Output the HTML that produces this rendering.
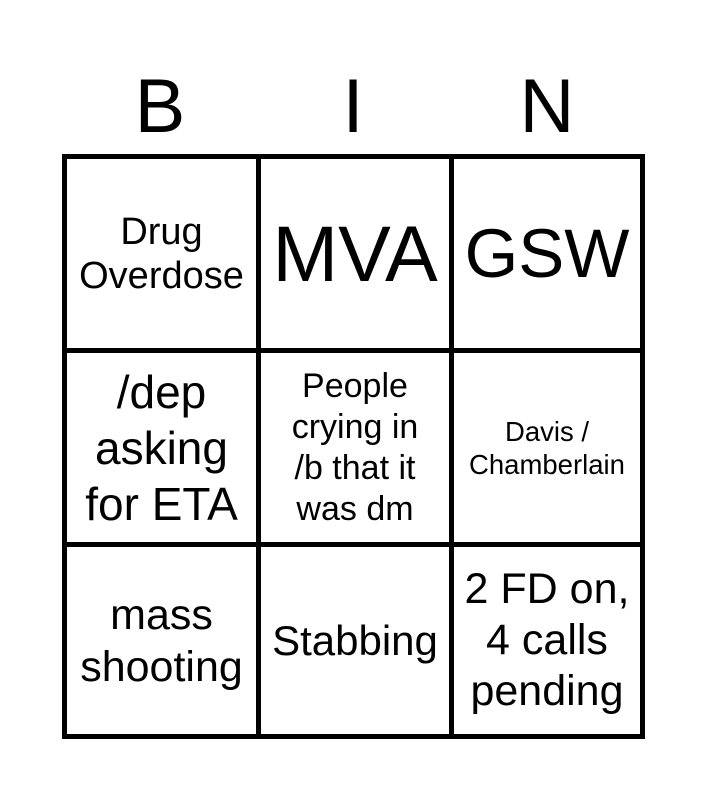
<!DOCTYPE html>
<html><head><style>
body{margin:0;width:707px;height:800px;background:#fff;font-family:"Liberation Sans",sans-serif;position:relative;overflow:hidden}
.h{position:absolute;top:62px;font-size:76px;width:120px;text-align:center;line-height:90px}
.l{position:absolute;background:#000}
.c{position:absolute;display:flex;align-items:center;justify-content:center;text-align:center;color:#000;white-space:nowrap}
</style></head><body>
<div class="h" style="left:100px">B</div>
<div class="h" style="left:293px">I</div>
<div class="h" style="left:487px">N</div>
<div class="l" style="left:62px;top:154px;width:583px;height:5px"></div>
<div class="l" style="left:62px;top:348px;width:583px;height:5px"></div>
<div class="l" style="left:62px;top:542px;width:583px;height:5px"></div>
<div class="l" style="left:62px;top:734px;width:583px;height:5px"></div>
<div class="l" style="left:62px;top:154px;width:5px;height:585px"></div>
<div class="l" style="left:256px;top:154px;width:5px;height:585px"></div>
<div class="l" style="left:449px;top:154px;width:5px;height:585px"></div>
<div class="l" style="left:640px;top:154px;width:5px;height:585px"></div>

<div class="c" style="left:67px;top:159px;width:189px;height:189px;font-size:38px;line-height:44px">Drug<br>Overdose</div>
<div class="c" style="left:261px;top:159px;width:188px;height:189px;font-size:79px">MVA</div>
<div class="c" style="left:454px;top:159px;width:186px;height:189px;font-size:69px">GSW</div>

<div class="c" style="left:67px;top:353px;width:189px;height:189px;font-size:46px;line-height:56px">/dep<br>asking<br>for ETA</div>
<div class="c" style="left:261px;top:353px;width:188px;height:189px;font-size:34px;line-height:41px">People<br>crying in<br>/b that it<br>was dm</div>
<div class="c" style="left:454px;top:353px;width:186px;height:189px;font-size:27.5px;line-height:33px">Davis /<br>Chamberlain</div>

<div class="c" style="left:67px;top:547px;width:189px;height:187px;font-size:43px;line-height:52px">mass<br>shooting</div>
<div class="c" style="left:261px;top:547px;width:188px;height:187px;font-size:42px">Stabbing</div>
<div class="c" style="left:454px;top:547px;width:186px;height:187px;font-size:43px;line-height:51px">2 FD on,<br>4 calls<br>pending</div>
</body></html>
